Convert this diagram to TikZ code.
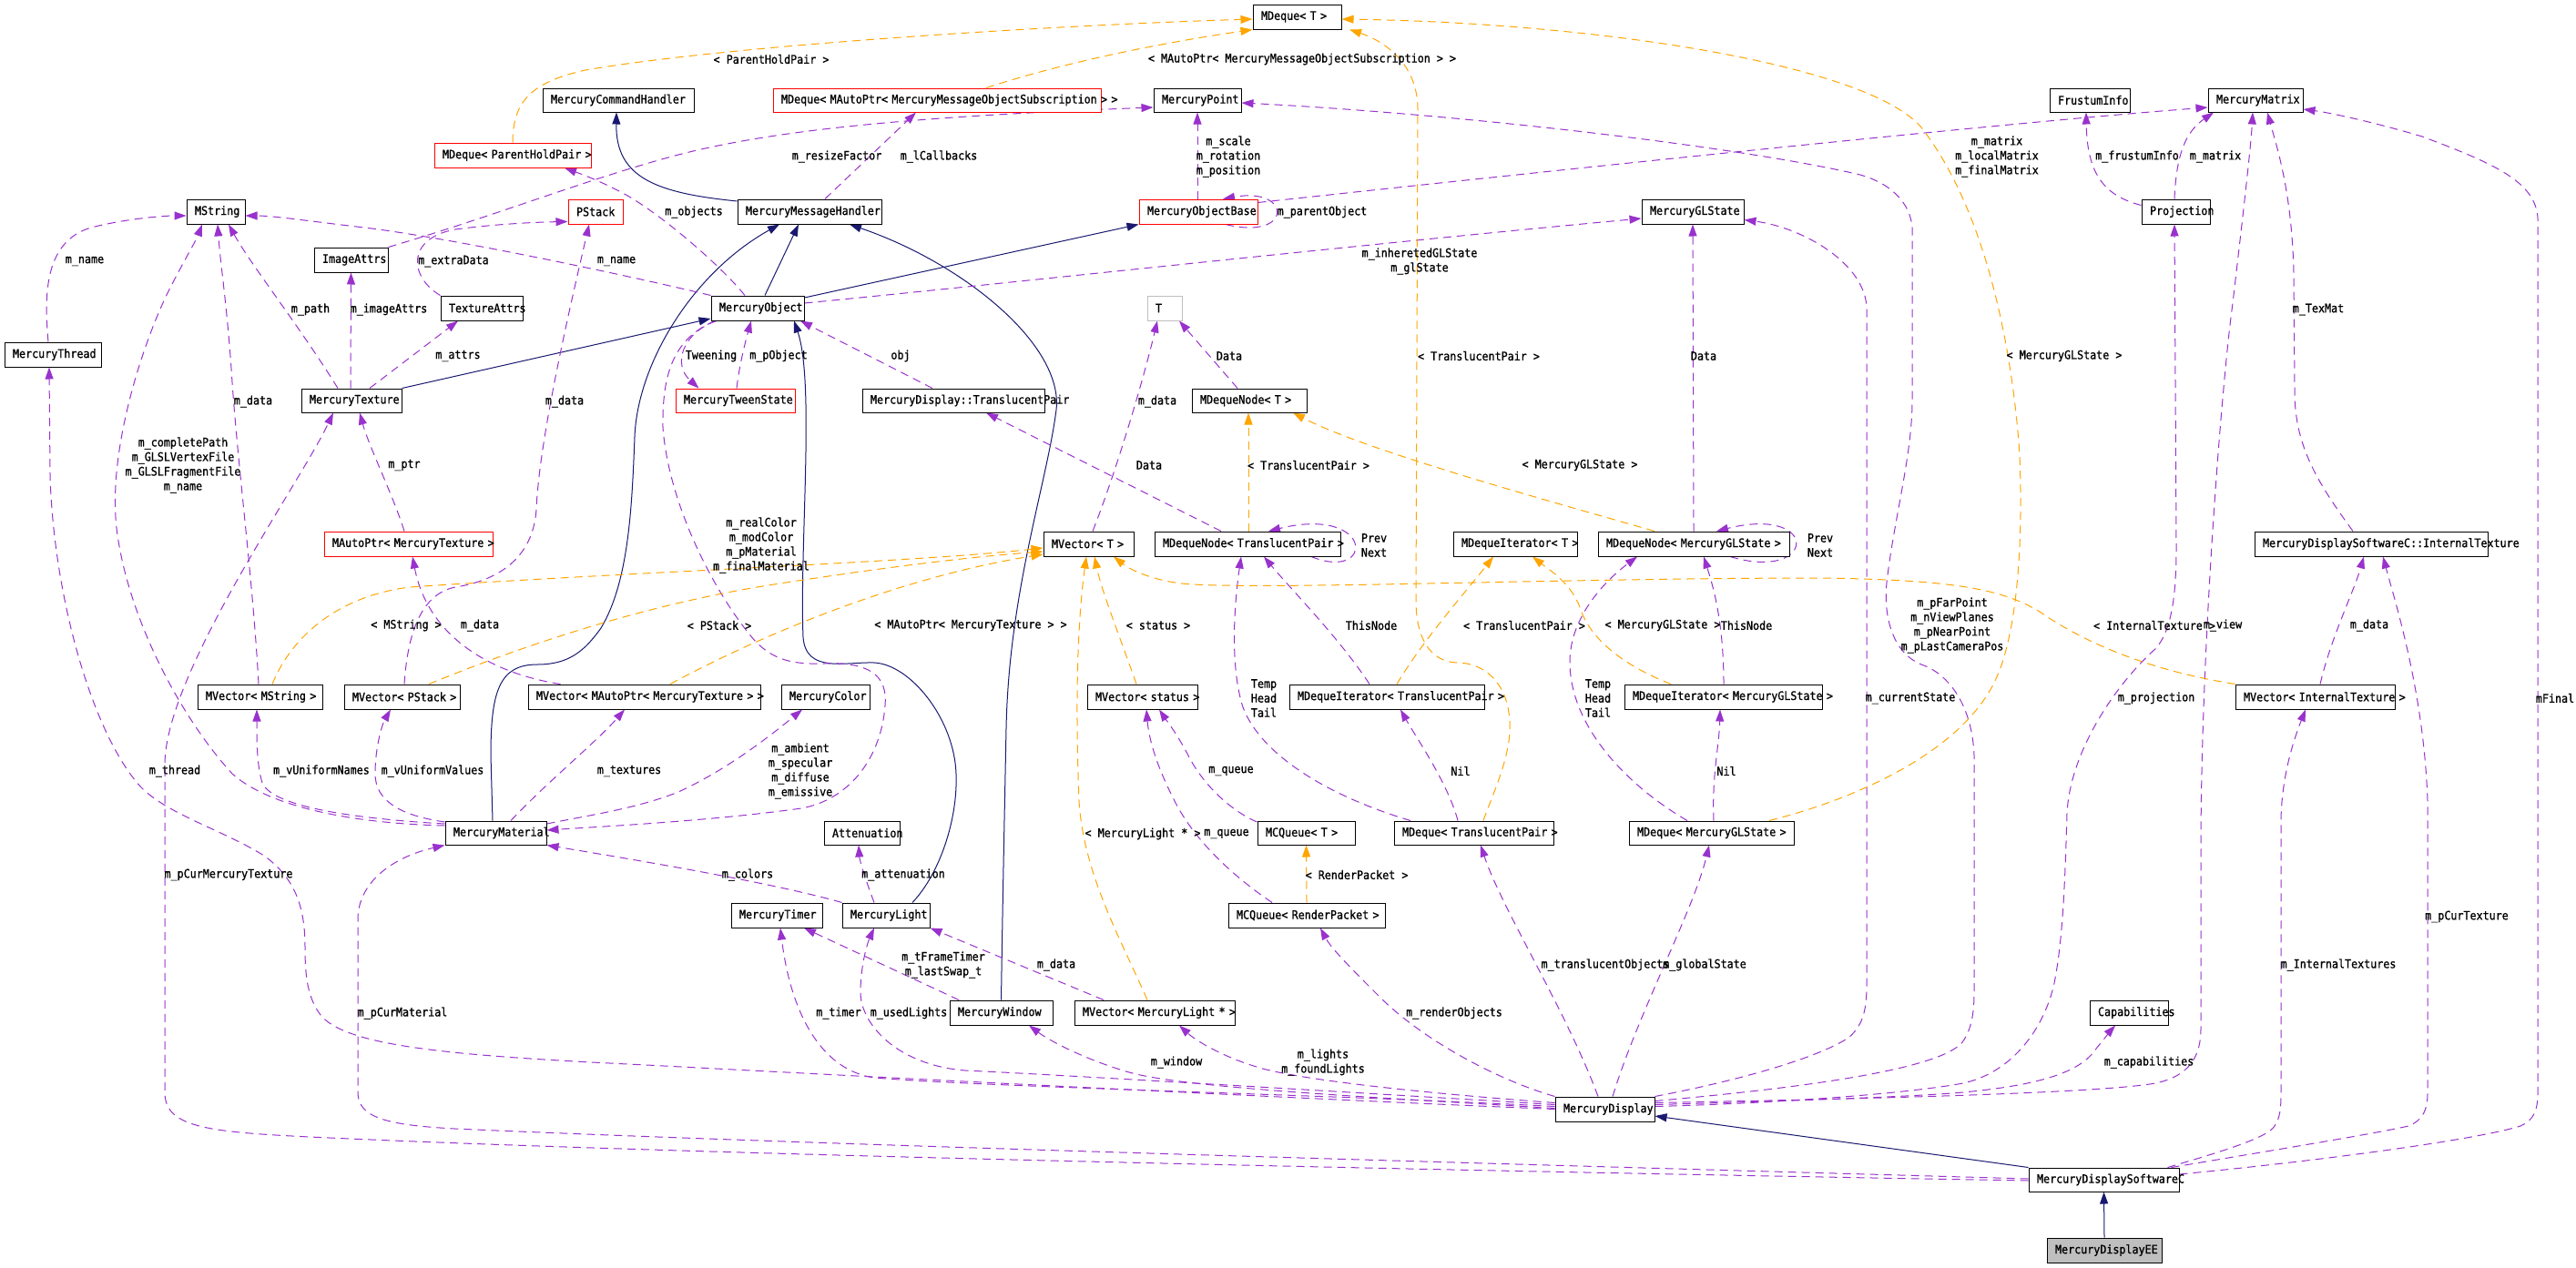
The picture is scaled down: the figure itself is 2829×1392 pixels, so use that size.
\documentclass[tikz,border=0pt]{standalone}
\usepackage{fontspec}
\setmainfont{DejaVu Sans Mono}[FakeStretch=0.9,FakeBold=1]
\usetikzlibrary{arrows.meta,backgrounds}
\definecolor{navy}{RGB}{25,25,112}
\definecolor{dorchid}{RGB}{153,50,204}
\definecolor{dorange}{RGB}{255,165,0}
\definecolor{lgray}{RGB}{191,191,191}
\tikzset{
 cls/.style={draw=black, fill=white, line width=1pt, inner xsep=9pt, inner ysep=0pt, align=left, font=\fontsize{13}{16}\selectfont},
 redcls/.style={draw=red},
 graycls/.style={draw=lgray},
 eecls/.style={fill=lgray},
 lbl/.style={font=\fontsize{13}{16}\selectfont, align=center, inner sep=0pt},
 inh/.style={draw=navy, line width=1pt, -{Triangle[length=13pt,width=9pt]}},
 use/.style={draw=dorchid, line width=1pt, dash pattern=on 9pt off 6pt, -{Triangle[length=13pt,width=9pt]}},
 tmpl/.style={draw=dorange, line width=1pt, dash pattern=on 9pt off 6pt, -{Triangle[length=13pt,width=9pt]}},
}
\newcommand{\clsnode}[7][]{%
 \pgfmathsetmacro{\cnw}{#5-#3}%
 \pgfmathsetmacro{\cnh}{#6-#4}%
 \pgfmathsetmacro{\cnx}{(#3+#5)/2}%
 \pgfmathsetmacro{\cny}{(#4+#6)/2}%
 \pgfmathsetmacro{\cnt}{#5-#3-18}%
 \node[cls,#1,minimum width=\cnw pt,minimum height=\cnh pt,text width=\cnt pt] (#2) at (\cnx,\cny) {\mbox{#7}};%
}
\begin{document}
\begin{tikzpicture}[x=1pt,y=-1pt]
\useasboundingbox (0,0) rectangle (2829,1392);
% ---------- classes
\clsnode{mch}{596}{97}{762}{123}{MercuryCommandHandler}
\clsnode[redcls]{mdphp}{477}{157}{649}{184}{MDeque< ParentHoldPair >}
\clsnode{mstring}{205}{219}{269}{246}{MString}
\clsnode[redcls]{pstack}{624}{219}{684}{246}{PStack}
\clsnode{imageattrs}{345}{272}{426}{299}{ImageAttrs}
\clsnode{texattrs}{484}{325}{574}{352}{TextureAttrs}
\clsnode{mthread}{5}{376}{111}{403}{MercuryThread}
\clsnode{mtexture}{331}{427}{441}{453}{MercuryTexture}
\clsnode{mdequeT}{1376}{5}{1473}{32}{MDeque< T >}
\clsnode[redcls]{mdmap}{849}{97}{1209}{123}{MDeque< MAutoPtr< MercuryMessageObjectSubscription > >}
\clsnode{mpoint}{1267}{97}{1363}{123}{MercuryPoint}
\clsnode{mmh}{810}{219}{968}{246}{MercuryMessageHandler}
\clsnode[redcls]{mob}{1251}{219}{1381}{246}{MercuryObjectBase}
\clsnode{mobject}{781}{325}{883}{352}{MercuryObject}
\clsnode[graycls]{tT}{1260}{325}{1298}{352}{T}
\clsnode[redcls]{mtween}{742}{427}{873}{453}{MercuryTweenState}
\clsnode{tpair}{947}{427}{1147}{453}{MercuryDisplay::TranslucentPair}
\clsnode{mdnT}{1309}{427}{1435}{453}{MDequeNode< T >}
\clsnode{mglstate}{1803}{219}{1915}{246}{MercuryGLState}
\clsnode{frustum}{2251}{97}{2339}{123}{FrustumInfo}
\clsnode{mmatrix}{2425}{97}{2529}{123}{MercuryMatrix}
\clsnode{projection}{2352}{219}{2427}{246}{Projection}
\clsnode[redcls]{maptex}{356}{584}{541}{611}{MAutoPtr< MercuryTexture >}
\clsnode{mvstring}{217}{752}{354}{779}{MVector< MString >}
\clsnode{mvpstack}{378}{752}{505}{779}{MVector< PStack >}
\clsnode{mvmaptex}{580}{752}{835}{779}{MVector< MAutoPtr< MercuryTexture > >}
\clsnode{mmaterial}{489}{902}{600}{928}{MercuryMaterial}
\clsnode{mvT}{1146}{584}{1245}{611}{MVector< T >}
\clsnode{mdnTP}{1268}{584}{1472}{611}{MDequeNode< TranslucentPair >}
\clsnode{mcolor}{858}{752}{955}{779}{MercuryColor}
\clsnode{mvstatus}{1194}{752}{1315}{779}{MVector< status >}
\clsnode{atten}{905}{902}{988}{928}{Attenuation}
\clsnode{mcqT}{1381}{902}{1488}{928}{MCQueue< T >}
\clsnode{mdiT}{1596}{584}{1732}{611}{MDequeIterator< T >}
\clsnode{mdnGL}{1755}{584}{1965}{611}{MDequeNode< MercuryGLState >}
\clsnode{mdiTP}{1416}{752}{1630}{779}{MDequeIterator< TranslucentPair >}
\clsnode{mdiGL}{1784}{752}{2001}{779}{MDequeIterator< MercuryGLState >}
\clsnode{mdTP}{1531}{902}{1706}{928}{MDeque< TranslucentPair >}
\clsnode{mdGL}{1789}{902}{1970}{928}{MDeque< MercuryGLState >}
\clsnode{mdsIT}{2476}{584}{2732}{611}{MercuryDisplaySoftwareC::InternalTexture}
\clsnode{mvIT}{2455}{752}{2630}{779}{MVector< InternalTexture >}
\clsnode{mtimer}{803}{992}{903}{1019}{MercuryTimer}
\clsnode{mlight}{925}{992}{1021}{1019}{MercuryLight}
\clsnode{mwindow}{1043}{1099}{1156}{1126}{MercuryWindow}
\clsnode{mvlight}{1180}{1099}{1356}{1126}{MVector< MercuryLight * >}
\clsnode{mcqRP}{1349}{992}{1521}{1019}{MCQueue< RenderPacket >}
\clsnode{mdisplay}{1708}{1205}{1817}{1232}{MercuryDisplay}
\clsnode{caps}{2295}{1099}{2381}{1126}{Capabilities}
\clsnode{mdsc}{2228}{1283}{2393}{1309}{MercuryDisplaySoftwareC}
\clsnode[eecls]{mdee}{2248}{1360}{2374}{1387}{MercuryDisplayEE}
% ---------- labels
\node[lbl] (l01) at (93,287) {m\_name};
\node[lbl] (l02) at (498,287) {m\_extraData};
\node[lbl] (l03) at (677,287) {m\_name};
\node[lbl] (l04) at (341,340) {m\_path};
\node[lbl] (l05) at (427,340) {m\_imageAttrs};
\node[lbl] (l06) at (503,391) {m\_attrs};
\node[lbl] (l07) at (278,441) {m\_data};
\node[lbl] (l08) at (620,441) {m\_data};
\node[lbl] (l09) at (847,65) {< ParentHoldPair >};
\node[lbl] (l10) at (1430,65) {< MAutoPtr< MercuryMessageObjectSubscription > >};
\node[lbl] (l11) at (919,172) {m\_resizeFactor};
\node[lbl] (l12) at (1031,172) {m\_lCallbacks};
\node[lbl] (l13) at (1349,172) {m\_scale\\m\_rotation\\m\_position};
\node[lbl] (l14) at (762,233) {m\_objects};
\node[lbl] (l15) at (1452,233) {m\_parentObject};
\node[lbl] (l16) at (781,391) {Tweening};
\node[lbl] (l17) at (855,391) {m\_pObject};
\node[lbl] (l18) at (989,391) {obj};
\node[lbl] (l19) at (1350,391) {Data};
\node[lbl] (l20) at (1271,441) {m\_data};
\node[lbl] (l21) at (1559,287) {m\_inheretedGLState\\m\_glState};
\node[lbl] (l22) at (1624,391) {< TranslucentPair >};
\node[lbl] (l23) at (1871,391) {Data};
\node[lbl] (l24) at (2193,172) {m\_matrix\\m\_localMatrix\\m\_finalMatrix};
\node[lbl] (l25) at (2347,172) {m\_frustumInfo};
\node[lbl] (l26) at (2433,172) {m\_matrix};
\node[lbl] (l27) at (2546,340) {m\_TexMat};
\node[lbl] (l28) at (2267,391) {< MercuryGLState >};
\node[lbl] (l29) at (201,511) {m\_completePath\\m\_GLSLVertexFile\\m\_GLSLFragmentFile\\m\_name};
\node[lbl] (l30) at (444,511) {m\_ptr};
\node[lbl] (l31) at (446,687) {< MString >};
\node[lbl] (l32) at (527,687) {m\_data};
\node[lbl] (l33) at (192,847) {m\_thread};
\node[lbl] (l34) at (353,847) {m\_vUniformNames};
\node[lbl] (l35) at (475,847) {m\_vUniformValues};
\node[lbl] (l36) at (691,847) {m\_textures};
\node[lbl] (l37) at (1262,511) {Data};
\node[lbl] (l38) at (1437,511) {< TranslucentPair >};
\node[lbl] (l39) at (836,599) {m\_realColor\\m\_modColor\\m\_pMaterial\\m\_finalMaterial};
\node[lbl] (l40) at (790,687) {< PStack >};
\node[lbl] (l41) at (1066,687) {< MAutoPtr< MercuryTexture > >};
\node[lbl] (l42) at (1272,687) {< status >};
\node[lbl] (l43) at (1388,767) {Temp\\Head\\Tail};
\node[lbl] (l44) at (879,847) {m\_ambient\\m\_specular\\m\_diffuse\\m\_emissive};
\node[lbl] (l45) at (1352,847) {m\_queue};
\node[lbl] (l46) at (1255,916) {< MercuryLight * >};
\node[lbl] (l47) at (1347,916) {m\_queue};
\node[lbl] (l48) at (1509,599) {Prev\\Next};
\node[lbl] (l49) at (1735,511) {< MercuryGLState >};
\node[lbl] (l50) at (1506,687) {ThisNode};
\node[lbl] (l51) at (1674,687) {< TranslucentPair >};
\node[lbl] (l52) at (1826,687) {< MercuryGLState >};
\node[lbl] (l53) at (1918,687) {ThisNode};
\node[lbl] (l54) at (1755,767) {Temp\\Head\\Tail};
\node[lbl] (l55) at (1999,599) {Prev\\Next};
\node[lbl] (l56) at (2098,767) {m\_currentState};
\node[lbl] (l57) at (1604,847) {Nil};
\node[lbl] (l58) at (1896,847) {Nil};
\node[lbl] (l59) at (2144,687) {m\_pFarPoint\\m\_nViewPlanes\\m\_pNearPoint\\m\_pLastCameraPos};
\node[lbl] (l60) at (2366,687) {< InternalTexture >};
\node[lbl] (l61) at (2441,687) {m\_view};
\node[lbl] (l62) at (2602,687) {m\_data};
\node[lbl] (l63) at (2368,767) {m\_projection};
\node[lbl] (l64) at (2806,767) {mFinal};
\node[lbl] (l65) at (251,961) {m\_pCurMercuryTexture};
\node[lbl] (l66) at (442,1113) {m\_pCurMaterial};
\node[lbl] (l67) at (821,961) {m\_colors};
\node[lbl] (l68) at (992,961) {m\_attenuation};
\node[lbl] (l69) at (1036,1060) {m\_tFrameTimer\\m\_lastSwap\_t};
\node[lbl] (l70) at (1160,1060) {m\_data};
\node[lbl] (l71) at (921,1113) {m\_timer};
\node[lbl] (l72) at (998,1113) {m\_usedLights};
\node[lbl] (l73) at (1292,1167) {m\_window};
\node[lbl] (l74) at (1490,961) {< RenderPacket >};
\node[lbl] (l75) at (1763,1060) {m\_translucentObjects};
\node[lbl] (l76) at (1872,1060) {m\_globalState};
\node[lbl] (l77) at (1597,1113) {m\_renderObjects};
\node[lbl] (l78) at (1453,1167) {m\_lights\\m\_foundLights};
\node[lbl] (l79) at (2360,1167) {m\_capabilities};
\node[lbl] (l80) at (2568,1060) {m\_InternalTextures};
\node[lbl] (l81) at (2709,1007) {m\_pCurTexture};
% ---------- connectors
\begin{pgfonlayer}{background}
\fill[white] (0,0) rectangle (2829,1392);
% inheritance
\draw[inh] ([yshift=11.5pt]mmh.west) .. controls (720,212) and (676,195) .. ([xshift=-2pt]mch.south);
\draw[inh] ([xshift=8pt]mobject.north) -- ([xshift=-12pt]mmh.south);
\draw[inh] ([xshift=-3.5pt]mmaterial.north) -- (539,830) .. controls (539,760) and (548,730) .. (590,730) .. controls (625,730) and (642,715) .. (660,690) .. controls (690,640) and (694,560) .. (697,480) .. controls (700,400) and (760,300) .. ([xshift=-33pt]mmh.south);
\draw[inh] (mwindow.north) .. controls (1101,1000) and (1102,950) .. (1105,800) .. controls (1108,650) and (1150,530) .. (1160,450) .. controls (1168,380) and (1060,290) .. ([xshift=44pt]mmh.south);
\draw[inh] ([xshift=29pt]mlight.north) .. controls (1032,960) and (1052,900) .. (1050,850) .. controls (1048,790) and (1000,730) .. (960,728) .. controls (928,727) and (885,740) .. (882,700) .. controls (878,600) and (895,420) .. ([xshift=40pt]mobject.south);
\draw[inh] (mtexture.north east) -- ([yshift=-11.5pt]mobject.west);
\draw[inh] ([yshift=11.5pt]mobject.east) -- (mob.south west);
\draw[inh] (mdsc.north west) -- ([yshift=-7.5pt]mdisplay.east);
\draw[inh] (mdee.north) -- (mdsc.south);
% usage
\draw[use] ([xshift=-5pt]mthread.north) .. controls (48,320) and (50,265) .. (100,250) .. controls (140,240) and (180,237) .. ([yshift=-4.5pt]mstring.west);
\draw[use] ([yshift=8pt]mmaterial.west) .. controls (400,905) and (300,890) .. (255,850) .. controls (200,790) and (140,680) .. (128,580) .. controls (118,490) and (160,370) .. (185,320) .. controls (200,290) and (215,265) .. ([xshift=-15pt]mstring.south);
\draw[use] ([xshift=-1.5pt]mvstring.north) .. controls (278,640) and (262,520) .. (255,420) .. controls (250,340) and (242,290) .. ([xshift=2pt]mstring.south);
\draw[use] ([xshift=-15pt]mtexture.north) .. controls (330,360) and (275,290) .. ([xshift=14pt]mstring.south);
\draw[use] (mobject.north west) .. controls (700,305) and (500,262) .. (400,250) .. controls (340,243) and (300,237) .. ([yshift=-4.5pt]mstring.east);
\draw[use] ([xshift=-14pt]mobject.north) .. controls (790,290) and (720,230) .. (680,210) .. controls (655,197) and (635,190) .. ([xshift=57pt]mdphp.south);
\draw[use] (imageattrs.north east) .. controls (550,235) and (650,195) .. (745,170) .. controls (850,143) and (1000,128) .. ([yshift=-8pt]mpoint.west);
\draw[use] (texattrs.north west) .. controls (450,305) and (445,262) .. (500,252) .. controls (545,246) and (590,244) .. ([yshift=-11pt]pstack.west);
\draw[use] ([xshift=2.5pt]mvpstack.north) .. controls (448,690) and (465,652) .. (500,645) .. controls (545,638) and (585,615) .. (589,560) .. controls (592,480) and (630,320) .. ([xshift=-7pt]pstack.south);
\draw[use] ([xshift=-1pt]mtexture.north) -- (imageattrs.south);
\draw[use] ([xshift=20pt]mtexture.north) -- ([xshift=-26pt]texattrs.south);
\draw[use] ([xshift=-4.5pt]maptex.north) .. controls (432,545) and (405,490) .. ([xshift=9pt]mtexture.south);
\draw[use] ([xshift=36pt]mvmaptex.north west) .. controls (540,740) and (470,700) .. ([xshift=4.5pt]maptex.south);
\draw[use] ([yshift=-1pt]mdsc.west) .. controls (1700,1288) and (800,1270) .. (362,1250) .. controls (230,1244) and (181,1240) .. (181,1200) -- (181,840) .. controls (181,740) and (330,530) .. ([xshift=-20pt]mtexture.south);
\draw[use] ([yshift=1pt]mdsc.west) .. controls (1700,1280) and (900,1258) .. (500,1240) .. controls (425,1236) and (393,1228) .. (393,1200) -- (393,1010) .. controls (393,970) and (430,942) .. (mmaterial.south west);
\draw[use] ([yshift=10pt]mmaterial.west) .. controls (400,900) and (300,888) .. (288,860) .. controls (282,840) and (282,815) .. ([xshift=-3.5pt]mvstring.south);
\draw[use] ([yshift=12pt]mmaterial.west) .. controls (440,896) and (412,880) .. (412,850) .. controls (412,820) and (420,795) .. ([xshift=-12.5pt]mvpstack.south);
\draw[use] ([xshift=16.5pt]mmaterial.north) .. controls (600,860) and (655,815) .. ([xshift=-21.5pt]mvmaptex.south);
\draw[use] ([xshift=-47pt]mobject.south) .. controls (740,372) and (727,410) .. (728,470) .. controls (735,560) and (790,660) .. (830,705) .. controls (850,725) and (870,730) .. (905,729) .. controls (955,727) and (975,742) .. (972,775) .. controls (968,830) and (935,878) .. (880,888) .. controls (780,902) and (660,908) .. ([yshift=3pt]mmaterial.east);
\draw[use] ([yshift=10pt]mmaterial.east) .. controls (650,895) and (700,888) .. (745,870) .. controls (800,845) and (850,805) .. ([xshift=-25.5pt]mcolor.south);
\draw[use] (mlight.north west) .. controls (850,970) and (700,945) .. (mmaterial.south east);
\draw[use] ([xshift=-46.5pt]mwindow.north) -- ([xshift=30pt]mtimer.south);
\draw[use] ([yshift=3pt]mdisplay.west) .. controls (1450,1202) and (1100,1195) .. (960,1184) .. controls (900,1175) and (868,1110) .. ([xshift=4pt]mtimer.south);
\draw[use] ([yshift=5pt]mdisplay.west) .. controls (1450,1198) and (1150,1180) .. (1060,1176) .. controls (985,1170) and (945,1125) .. (945,1090) .. controls (945,1060) and (953,1035) .. ([xshift=-13pt]mlight.south);
\draw[use] ([xshift=-56pt]mvlight.north) -- (mlight.south east);
\draw[use] ([xshift=-13pt]mlight.north) .. controls (950,965) and (944,945) .. ([xshift=-3.5pt]atten.south);
\draw[use] ([yshift=1pt]mdisplay.west) .. controls (1500,1205) and (1300,1195) .. (1240,1178) .. controls (1195,1165) and (1155,1145) .. ([xshift=30.5pt]mwindow.south);
\draw[use] ([yshift=7pt]mdisplay.west) .. controls (1550,1200) and (1420,1185) .. (1380,1172) .. controls (1340,1160) and (1312,1142) .. ([xshift=27pt]mvlight.south);
\draw[use] (mdisplay.north west) .. controls (1640,1185) and (1560,1140) .. (1515,1095) .. controls (1485,1065) and (1462,1042) .. ([xshift=15pt]mcqRP.south);
\draw[use] ([xshift=-7.5pt]mdisplay.north) .. controls (1720,1110) and (1650,1000) .. ([xshift=7.5pt]mdTP.south);
\draw[use] ([xshift=8.5pt]mdisplay.north) .. controls (1800,1110) and (1860,1000) .. ([xshift=-2.5pt]mdGL.south);
\draw[use] (mdisplay.north east) .. controls (1920,1185) and (2000,1160) .. (2030,1140) .. controls (2048,1125) and (2050,1105) .. (2050,1080) -- (2050,340) .. controls (2050,290) and (1980,250) .. ([yshift=-9pt]mglstate.east);
\draw[use] ([yshift=9pt]mdisplay.east) .. controls (1980,1195) and (2130,1175) .. (2155,1145) .. controls (2166,1130) and (2168,1110) .. (2168,1090) -- (2168,830) .. controls (2166,775) and (2140,740) .. (2110,730) .. controls (2080,718) and (2068,680) .. (2072,640) .. controls (2080,570) and (2100,500) .. (2100,440) -- (2100,250) .. controls (2097,215) and (2065,196) .. (2034,190) .. controls (1900,160) and (1600,125) .. ([yshift=-3pt]mpoint.east);
\draw[use] ([yshift=3pt]mdisplay.east) .. controls (1950,1212) and (2090,1202) .. (2156,1190) .. controls (2210,1178) and (2245,1130) .. (2256,1080) .. controls (2266,1030) and (2268,960) .. (2270,893) .. controls (2274,820) and (2330,745) .. (2368,712) .. controls (2386,690) and (2390,650) .. (2390,600) -- ([xshift=-1.5pt]projection.south);
\draw[use] ([yshift=7pt]projection.west) .. controls (2310,215) and (2292,190) .. ([xshift=-4pt]frustum.south);
\draw[use] ([xshift=-1.5pt]projection.north) .. controls (2390,170) and (2400,145) .. ([xshift=-46pt]mmatrix.south);
\draw[use] ([xshift=-20pt]mdsIT.north) .. controls (2545,530) and (2520,490) .. (2520,430) -- (2519,300) .. controls (2517,210) and (2500,160) .. ([xshift=13pt]mmatrix.south);
\draw[use] ([yshift=7pt]mdisplay.east) .. controls (2000,1208) and (2300,1202) .. (2367,1190) .. controls (2405,1182) and (2417,1160) .. (2417,1130) -- (2417,920) .. controls (2418,700) and (2440,420) .. (2452,333) .. controls (2464,230) and (2472,160) .. ([xshift=-3pt]mmatrix.south);
\draw[use] ([yshift=6pt]mdsc.east) .. controls (2550,1275) and (2720,1252) .. (2768,1237) .. controls (2783,1230) and (2787,1220) .. (2787,1200) -- (2787,240) .. controls (2785,200) and (2740,180) .. (2660,150) .. controls (2610,135) and (2560,124) .. ([yshift=-10pt]mmatrix.east);
\draw[use] ([xshift=74pt]mdsc.north) .. controls (2500,1263) and (2610,1245) .. (2645,1237) .. controls (2662,1230) and (2666,1218) .. (2666,1200) -- (2666,880) .. controls (2662,760) and (2630,660) .. ([xshift=13pt]mdsIT.south);
\draw[use] ([xshift=70pt]mdsc.north) .. controls (2440,1265) and (2490,1250) .. (2498,1237) .. controls (2504,1228) and (2505,1218) .. (2505,1200) -- (2505,900) .. controls (2506,850) and (2520,810) .. ([xshift=-10.5pt]mvIT.south);
\draw[use] ([xshift=5.5pt]mvIT.north) .. controls (2560,700) and (2585,650) .. ([xshift=-8pt]mdsIT.south);
\draw[use] ([yshift=5pt]mdisplay.east) .. controls (1950,1210) and (2100,1205) .. (2156,1200) .. controls (2240,1192) and (2285,1178) .. (2302,1152) .. controls (2312,1140) and (2318,1132) .. ([xshift=-15pt]caps.south);
\draw[use] (mdisplay.west) .. controls (1400,1206) and (900,1180) .. (710,1170) .. controls (500,1160) and (380,1150) .. (352,1115) .. controls (337,1095) and (335,1070) .. (335,1040) .. controls (335,990) and (320,962) .. (290,940) .. controls (245,912) and (185,895) .. (155,865) .. controls (100,805) and (58,650) .. (55,520) -- ([xshift=-4pt]mthread.south);
\draw[use] ([xshift=-38pt]mcqRP.north) .. controls (1350,960) and (1310,920) .. (1290,880) .. controls (1272,845) and (1262,815) .. ([xshift=4.5pt]mvstatus.south);
\draw[use] ([yshift=12pt]mcqT.west) .. controls (1350,890) and (1320,860) .. (1305,830) .. controls (1292,805) and (1280,790) .. ([xshift=18.5pt]mvstatus.south);
\draw[use] ([xshift=4.5pt]mvT.north) .. controls (1225,520) and (1255,420) .. ([xshift=-8pt]tT.south);
\draw[use] ([xshift=-13pt]mdnT.north) -- ([xshift=16pt]tT.south);
\draw[use] ([xshift=-23pt]tpair.north) -- ([xshift=47pt]mobject.south);
\draw[use] ([xshift=1.5pt]mtween.north) .. controls (812,400) and (820,370) .. ([xshift=-7pt]mobject.south);
\draw[use] ([xshift=-45pt]mobject.south) .. controls (750,365) and (738,400) .. ([xshift=-40pt]mtween.north);
\draw[use] ([xshift=-29pt]mdnTP.north) -- ([xshift=36pt]tpair.south);
\draw[use] ([xshift=70pt]mdnTP.south) .. controls (1510,640) and (1510,555) .. ([xshift=23pt]mdnTP.north);
\draw[use] ([xshift=-19pt]mdiTP.north) .. controls (1470,700) and (1420,650) .. ([xshift=18pt]mdnTP.south);
\draw[use] ([xshift=-69.5pt]mdTP.north) .. controls (1460,875) and (1385,830) .. (1365,777) .. controls (1350,730) and (1356,660) .. ([xshift=-7pt]mdnTP.south);
\draw[use] ([xshift=-17.5pt]mdTP.north) .. controls (1590,860) and (1555,810) .. ([xshift=15pt]mdiTP.south);
\draw[use] ([xshift=-26.5pt]mdGL.north) .. controls (1790,865) and (1724,800) .. (1724,727) .. controls (1724,680) and (1760,640) .. ([xshift=-62pt]mdnGL.south);
\draw[use] ([xshift=2.5pt]mdGL.north) .. controls (1880,850) and (1888,820) .. ([xshift=-3.5pt]mdiGL.south);
\draw[use] ([xshift=0.5pt]mdiGL.north) .. controls (1893,680) and (1880,640) .. ([xshift=11pt]mdnGL.south);
\draw[use] ([xshift=40pt]mdnGL.south) .. controls (1995,640) and (2000,555) .. ([xshift=25pt]mdnGL.north);
\draw[use] (mdnGL.north) -- (mglstate.south);
\draw[use] ([yshift=5.5pt]mobject.east) .. controls (1100,312) and (1500,268) .. ([yshift=-7.5pt]mglstate.west);
\draw[use] ([yshift=10pt]mob.east) .. controls (1700,188) and (2200,135) .. ([yshift=-8pt]mmatrix.west);
\draw[use] ([xshift=-1pt]mob.north) -- (mpoint.south);
\draw[use] ([xshift=30pt]mob.south) .. controls (1420,265) and (1420,205) .. ([xshift=27pt]mob.north);
\draw[use] ([xshift=17pt]mmh.north) -- ([xshift=-23pt]mdmap.south);
% template instances
\draw[tmpl] (mdphp.north) .. controls (563,110) and (585,90) .. (643,77) .. controls (800,50) and (1150,28) .. ([yshift=-2.5pt]mdequeT.west);
\draw[tmpl] ([xshift=54pt]mdmap.north) .. controls (1180,65) and (1290,45) .. (mdequeT.south west);
\draw[tmpl] ([xshift=63.5pt]mdGL.north) .. controls (2030,880) and (2150,830) .. (2190,750) .. controls (2215,700) and (2222,600) .. (2218,500) .. controls (2210,380) and (2180,230) .. (2110,140) .. controls (2050,70) and (1750,25) .. ([yshift=-2.5pt]mdequeT.east);
\draw[tmpl] ([xshift=10.5pt]mdTP.north) .. controls (1640,870) and (1660,830) .. (1658,793) .. controls (1656,750) and (1630,728) .. (1600,728) .. controls (1570,727) and (1555,700) .. (1555,660) -- (1557,120) .. controls (1557,70) and (1520,45) .. ([xshift=57.5pt]mdequeT.south);
\draw[tmpl] (mcqRP.north) -- (mcqT.south);
\draw[tmpl] ([xshift=-8pt]mvlight.north) .. controls (1230,1030) and (1190,960) .. (1185,880) .. controls (1180,750) and (1185,670) .. ([xshift=-2.5pt]mvT.south);
\draw[tmpl] ([xshift=-6.5pt]mvstatus.north) .. controls (1230,700) and (1210,650) .. ([xshift=6.5pt]mvT.south);
\draw[tmpl] (mvIT.north west) .. controls (2350,735) and (2280,700) .. (2240,672) .. controls (2200,648) and (2150,637) .. (2000,635) .. controls (1700,635) and (1350,650) .. (1290,640) .. controls (1260,635) and (1240,625) .. ([xshift=27.5pt]mvT.south);
\draw[tmpl] ([xshift=13.5pt]mvstring.north) .. controls (320,700) and (370,655) .. (450,645) .. controls (700,628) and (1000,618) .. ([yshift=-4.5pt]mvT.west);
\draw[tmpl] ([xshift=29.5pt]mvpstack.north) .. controls (560,715) and (700,665) .. (850,642) .. controls (960,625) and (1060,612) .. ([yshift=-8.5pt]mvT.west);
\draw[tmpl] ([xshift=28.5pt]mvmaptex.north) .. controls (850,690) and (1000,632) .. ([yshift=-11.5pt]mvT.west);
\draw[tmpl] ([xshift=1pt]mdnTP.north) -- ([xshift=-1pt]mdnT.south);
\draw[tmpl] ([xshift=-43pt]mdnGL.north) .. controls (1700,550) and (1500,495) .. ([xshift=48pt]mdnT.south);
\draw[tmpl] ([xshift=11pt]mdiTP.north) .. controls (1565,700) and (1610,650) .. ([xshift=-24pt]mdiT.south);
\draw[tmpl] ([xshift=-57.5pt]mdiGL.north) .. controls (1780,730) and (1745,700) .. (1735,667) .. controls (1725,640) and (1700,625) .. ([xshift=19pt]mdiT.south);
\end{pgfonlayer}
\end{tikzpicture}
\end{document}
